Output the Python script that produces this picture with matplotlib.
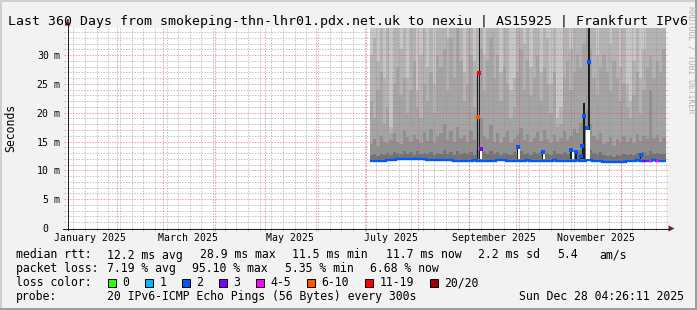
import numpy as np
import pandas as pd
import matplotlib
matplotlib.use("Agg")
import matplotlib.pyplot as plt
import matplotlib.dates as mdates
import matplotlib.transforms as mtransforms
from matplotlib.patches import Rectangle, Polygon

plt.rcParams['font.family'] = ['DejaVu Sans Mono']

# ---------------- data ----------------
TITLE = "Last 360 Days from smokeping-thn-lhr01.pdx.net.uk to nexiu | AS15925 | Frankfurt IPv6"
T_START = "2025-01-02 04:26:11"
T_END = "2025-12-28 04:26:11"
Y_MAX_MS = 34.7
Y_TICKS_MS = [0, 5, 10, 15, 20, 25, 30]
MONTH_LABELS = ["January 2025", "March 2025", "May 2025", "July 2025",
                "September 2025", "November 2025"]
MONTH_LABEL_AT = ["2025-01-16", "2025-03-16", "2025-05-16", "2025-07-16",
                  "2025-09-16", "2025-11-16"]
MONTH_STARTS = ["2025-02-01", "2025-03-01", "2025-04-01", "2025-05-01", "2025-06-01",
                "2025-07-01", "2025-08-01", "2025-09-01", "2025-10-01", "2025-11-01",
                "2025-12-01"]

BUCKET_START = "2025-07-03"
BUCKET_DAYS = 2

median_ms = [
    11.60, 11.60, 11.62, 11.60, 11.61,
    11.82, 11.85, 11.84,
    12.02, 12.02, 12.00, 12.03, 12.02, 12.01, 12.02, 12.00, 12.02,
    11.76, 11.78, 11.75, 11.76, 11.74, 11.76, 11.78, 11.75,
    11.60, 11.61, 11.60, 11.62,
    11.70, 11.70, 11.72, 11.70, 11.70, 11.71, 11.70, 11.70, 11.70, 11.72,
    11.72, 11.85, 11.70, 11.70, 11.71, 11.70, 11.70, 11.70, 11.72, 11.70,
    11.70, 11.70, 11.71, 11.70, 11.70, 11.70, 11.72, 11.70, 11.70, 11.70,
    11.70, 11.71, 11.70, 11.72, 11.70, 11.70, 11.75, 11.72, 11.70, 11.70,
    11.66,
    11.45, 11.44, 11.45, 11.46, 11.44, 11.45, 11.46,
    11.68, 11.70, 11.70, 11.72, 11.70, 11.70, 11.68, 11.70, 11.72, 11.70, 11.70, 11.68,
]
median_loss = [
    2, 2, 2, 2, 2, 2, 2, 2, 2, 2,
    2, 2, 2, 2, 2, 2, 2, 2, 2, 2,
    2, 2, 2, 2, 2, 2, 2, 2, 2, 2,
    2, 2, 2, 2, 2, 2, 2, 2, 2, 2,
    2, 2, 2, 2, 2, 2, 2, 2, 2, 2,
    2, 2, 2, 2, 2, 2, 2, 2, 2, 2,
    2, 2, 2, 2, 2, 2, 2, 2, 2, 2,
    2, 2, 2, 2, 2, 2, 2, 2, 2, 2,
    2, 2, 3, 2, 4, 2, 4, 2, 2,
]
smoke_dark_top = [
    12.6, 12.8, 12.5, 12.9, 12.6, 13.0, 12.7, 13.2, 13.0, 12.8,
    13.4, 12.9, 13.1, 12.7, 13.3, 12.9, 13.0, 12.8, 13.2, 12.6,
    13.0, 12.9, 13.5, 12.8, 13.1, 12.7, 13.3, 12.9, 13.0, 12.8,
    13.2, 12.7, 13.6, 14.0, 13.2, 12.9, 13.4, 12.8, 13.1, 12.7,
    13.0, 12.9, 12.6, 13.2, 12.8, 13.3, 12.9, 13.0, 12.7, 13.1,
    12.8, 13.2, 12.9, 13.0, 12.7, 13.3, 12.8, 12.9, 13.1, 12.8,
    13.0, 13.4, 13.2, 13.6, 13.8, 14.0, 13.5, 13.0, 12.8, 13.1,
    12.6, 12.5, 12.7, 12.4, 12.6, 12.5, 12.8, 12.7, 12.9, 12.6,
    13.0, 12.8, 13.1, 12.7, 13.4, 12.9, 13.0, 12.8, 12.9,
]
smoke_inner_top = [
    14.5, 15.5, 14.2, 16.0, 15.0, 14.8, 15.2, 16.5, 15.0, 14.6,
    17.0, 15.8, 14.9, 16.2, 15.4, 14.8, 16.6, 15.1, 17.2, 14.7,
    15.9, 16.4, 18.0, 15.2, 16.8, 15.0, 17.5, 15.6, 16.2, 14.9,
    16.9, 15.3, 18.5, 19.0, 16.0, 15.4, 17.8, 15.0, 16.5, 14.7,
    15.8, 16.9, 14.8, 15.5, 16.1, 17.4, 15.2, 16.3, 14.9, 15.7,
    16.6, 15.1, 17.0, 15.4, 14.8, 16.2, 15.0, 15.6, 16.8, 15.3,
    16.0, 17.1, 16.4, 18.2, 19.0, 20.5, 18.0, 16.0, 15.2, 16.5,
    14.6, 14.9, 15.8, 14.3, 15.5, 14.7, 16.0, 15.0, 15.6, 14.8,
    16.3, 15.1, 16.0, 15.4, 24.0, 15.7, 16.2, 15.0, 15.8,
]
smoke_mid_top = [
    22, 19, 24, 27, 18, 21, 16.5, 25, 28, 23,
    26, 20, 24, 29, 21, 19, 25, 22, 27, 20,
    30, 28, 31, 24, 33, 26, 34.7, 29, 22, 25,
    30, 21, 27, 31, 24, 29, 33, 26, 30, 22,
    28, 25, 19, 21, 27, 31, 24, 29, 23, 26,
    30, 22, 28, 25, 20, 27, 17.5, 18, 26, 29,
    24, 27, 30, 28, 32, 34.7, 31, 26, 23, 28,
    30, 27, 24, 29, 26, 22, 25, 21, 19, 23,
    27, 20, 24, 28, 30, 26, 29, 27, 31,
]
smoke_light_from = [
    30, 33, 29, 34.7, 26, 34.7, 17.5, 34.7, 34.7, 31,
    34.7, 26, 34.7, 34.7, 24, 30, 34.7, 28, 34.7, 25,
    34.7, 34.7, 34.7, 33, 34.7, 34.7, 34.7, 34.7, 27, 34.7,
    34.7, 29, 34.7, 34.7, 30, 34.7, 34.7, 34.7, 34.7, 27,
    34.7, 34.7, 24, 26, 34.7, 34.7, 32, 34.7, 28, 34.7,
    34.7, 27, 34.7, 33, 25, 34.7, 19, 21, 34.7, 34.7,
    31, 34.7, 34.7, 34.7, 34.7, 34.7, 34.7, 34.7, 30, 34.7,
    34.7, 34.7, 32, 34.7, 34.7, 28, 34.7, 25, 22, 29,
    34.7, 26, 31, 34.7, 34.7, 34.7, 34.7, 34.7, 34.7,
]

spike_dates = ["2025-09-06", "2025-09-07", "2025-09-08", "2025-09-30", "2025-10-01",
               "2025-10-15", "2025-10-16", "2025-11-01", "2025-11-02", "2025-11-04",
               "2025-11-07", "2025-11-08", "2025-11-09", "2025-11-11", "2025-11-12",
               "2025-12-13"]
spike_lo = [0, 0, 13.5, 0, 13.8, 0, 13.0, 0, 13.2, 0, 0, 0, 0, 17.0, 17.0, 0]
spike_hi = [26.9, 34.7, 13.5, 14.1, 13.8, 13.2, 13.0, 13.5, 13.2, 13.1, 12.5, 14.2,
            21.7, 17.3, 34.7, 12.6]
spike_med = [19.3, 26.9, 13.7, 14.1, None, 13.2, None, 13.5, None, 13.1, 12.5, 14.2,
             19.4, 17.3, 28.8, 12.6]
spike_loss = [5, 6, 3, 2, 2, 2, 2, 2, 2, 2, 2, 2, 2, 2, 2, 2]

LOSS_LABELS = ["0", "1", "2", "3", "4-5", "6-10", "11-19", "20/20"]
LOSS_COLORS = ["#26ff00", "#00b8ff", "#0059ff", "#7e00ff", "#ff00ff", "#ff5500",
               "#ff0000", "#a10000"]

RTT_STATS = ["12.2 ms avg", "28.9 ms max", "11.5 ms min", "11.7 ms now", "2.2 ms sd",
             "5.4", "am/s"]
LOSS_STATS = ["7.19 % avg", "95.10 % max", "5.35 % min", "6.68 % now"]
PROBE_TEXT = "20 IPv6-ICMP Echo Pings (56 Bytes) every 300s"
STAMP = "Sun Dec 28 04:26:11 2025"

# ---------------- style / layout ----------------
W, H = 697, 310
BG = "#f2f2f2"
SHADE_A = "#cfcfcf"
SHADE_B = "#9e9e9e"
GRID_C = (0.56, 0.56, 0.56, 0.55)
MGRID_C = (0.87, 0.31, 0.31, 0.55)
ARROW_C = (0.50, 0.12, 0.12)
AXIS_C = (0.12, 0.12, 0.12)

fig = plt.figure(figsize=(W / 100, H / 100), dpi=100, facecolor=BG)
AX_L, AX_R, AX_T, AX_B = 67, 666, 28, 228
ax = fig.add_axes([AX_L / W, (H - AX_B) / H, (AX_R - AX_L) / W, (AX_B - AX_T) / H])
ax.set_facecolor("white")
for s in ax.spines.values():
    s.set_visible(False)
ax.set_xticks([])
ax.set_yticks([])

x0 = mdates.date2num(pd.Timestamp(T_START))
x1 = mdates.date2num(pd.Timestamp(T_END))
ax.set_xlim(x0, x1)
ax.set_ylim(0, Y_MAX_MS)
day_px = (AX_R - AX_L) / (x1 - x0)
ms_px = (AX_B - AX_T) / Y_MAX_MS

# ---- smoke ----
n = len(median_ms)
edges = list(pd.date_range(BUCKET_START, periods=n, freq=f"{BUCKET_DAYS}D")) + [pd.Timestamp(T_END)]
xe = mdates.date2num(edges)


def ext(a):
    a = np.asarray(a, float)
    return np.append(a, a[-1])


med_e = ext(median_ms)
top_e = np.full(len(xe), Y_MAX_MS + 2)
ax.fill_between(xe, med_e, top_e, step="post", color="#b3b3b3", lw=0, zorder=1.0)
ax.fill_between(xe, ext(smoke_light_from), top_e, step="post", color="#c6c6c6", lw=0, zorder=1.1)
ax.fill_between(xe, med_e, ext(smoke_mid_top), step="post", color="#a4a4a4", lw=0, zorder=1.2)
ax.fill_between(xe, med_e, ext(smoke_inner_top), step="post", color="#8f8f8f", lw=0, zorder=1.3)
ax.fill_between(xe, med_e, ext(smoke_dark_top), step="post", color="#737373", lw=0, zorder=1.4)

# ---- grid ----
gkw = dict(lw=0.72, linestyle=(0, (1.4, 1.4)), clip_on=False, zorder=3)
lext = 3.5 / day_px
rext = 2.5 / day_px
for v in range(1, int(Y_MAX_MS) + 1):
    if v % 5:
        ax.plot([x0 - lext, x1 + rext], [v, v], color=GRID_C, **gkw)
weeks = pd.date_range("2025-01-06", T_END, freq="7D")
for d in weeks:
    xd = mdates.date2num(d)
    ax.plot([xd, xd], [-2.5 / ms_px, Y_MAX_MS], color=GRID_C, **gkw)
for v in Y_TICKS_MS[1:]:
    ax.plot([x0 - lext, x1 + rext], [v, v], color=MGRID_C, **gkw)
for d in MONTH_STARTS:
    xd = mdates.date2num(pd.Timestamp(d))
    ax.plot([xd, xd], [-2.5 / ms_px, Y_MAX_MS], color=MGRID_C, **gkw)

# ---- median line ----
ax.step(xe, med_e, where="post", color=LOSS_COLORS[2], lw=1.7, zorder=4,
        solid_capstyle="butt", solid_joinstyle="miter")
for i in range(n):
    if median_loss[i] != 2:
        ax.plot([xe[i], xe[i + 1]], [median_ms[i], median_ms[i]],
                color=LOSS_COLORS[median_loss[i]], lw=1.7, zorder=4.1,
                solid_capstyle="butt")

# ---- spikes ----
sx = mdates.date2num(pd.to_datetime(spike_dates))
for xs, lo, hi, md, lc in zip(sx, spike_lo, spike_hi, spike_med, spike_loss):
    k = int(np.searchsorted(xe, xs, side="right") - 1)
    base = median_ms[min(max(k, 0), n - 1)] + 0.3
    if lo > base:
        ax.bar(xs, lo - base, bottom=base, width=1.2, color="white", lw=0, zorder=5)
    b0 = max(lo, base)
    if hi > b0:
        ax.bar(xs, hi - b0, bottom=b0, width=0.9, color="#1c1c1c", lw=0, zorder=5.1)
    if md is not None:
        ax.scatter([xs], [md], marker="s", s=5, color=LOSS_COLORS[lc], lw=0, zorder=6)

# ---- axis texts ----
num_tr = mtransforms.offset_copy(ax.transData, fig=fig, x=48.8 - AX_L, y=0, units="dots")
unit_tr = mtransforms.offset_copy(ax.transData, fig=fig, x=53.6 - AX_L, y=0, units="dots")
for v in Y_TICKS_MS:
    ax.text(x0, v, f"{v}", transform=num_tr, ha="right", va="center_baseline",
            fontsize=7.1, clip_on=False)
    if v:
        ax.text(x0, v, "m", transform=unit_tr, ha="left", va="center_baseline",
                fontsize=7.1, clip_on=False)

mon_tr = mtransforms.offset_copy(ax.transData, fig=fig, x=0, y=-(240.8 - AX_B), units="dots")
for lab, d in zip(MONTH_LABELS, MONTH_LABEL_AT):
    ax.text(mdates.date2num(pd.Timestamp(d)), 0, lab, transform=mon_tr, ha="center",
            va="baseline", fontsize=7.1, clip_on=False)

# ---- overlay in pixel coordinates ----
ov = fig.add_axes([0, 0, 1, 1])
ov.set_xlim(0, W)
ov.set_ylim(H, 0)
ov.patch.set_visible(False)
ov.set_axis_off()

# borders
ov.add_patch(Rectangle((0, 0), W, 2, color=SHADE_A, lw=0))
ov.add_patch(Rectangle((0, 0), 2, H, color=SHADE_A, lw=0))
ov.add_patch(Rectangle((W - 2, 0), 2, H, color=SHADE_B, lw=0))
ov.add_patch(Rectangle((0, H - 2), W, 2, color=SHADE_B, lw=0))

# axes lines + arrows
ov.plot([AX_L + 0.5, AX_L + 0.5], [AX_B + 1.5, 24], color=AXIS_C, lw=0.72)
ov.add_patch(Polygon([(AX_L - 2.5, 25.5), (AX_L + 3.5, 25.5), (AX_L + 0.5, 19.5)],
                     closed=True, color=ARROW_C, lw=0))
ov.plot([63, 670], [AX_B + 0.5, AX_B + 0.5], color=AXIS_C, lw=0.72)
ov.add_patch(Polygon([(668.5, AX_B - 2.5), (668.5, AX_B + 3.5), (674.5, AX_B + 0.5)],
                     closed=True, color=ARROW_C, lw=0))

# title, unit, watermark
ov.text(8, 24.6, TITLE, ha="left", va="baseline", fontsize=9.5)
ov.text(10.5, (AX_T + AX_B) / 2, "Seconds", rotation=90, ha="center", va="center",
        fontsize=8.3)
ov.text(691, 60, "RRDTOOL / TOBI OETIKER", rotation=270, ha="center", va="center",
        fontsize=5.9, color="#b0b0b0")

# legend
LFS = 8.3
rows_y = [258.5, 272.3, 286.1, 299.9]
ov.text(15.5, rows_y[0], "median rtt:", ha="left", va="baseline", fontsize=LFS)
for txt, xp in zip(RTT_STATS, [107, 199.5, 292.5, 385.5, 478.5, 557.3, 599.5]):
    ov.text(xp, rows_y[0], txt, ha="left", va="baseline", fontsize=LFS)
ov.text(15.5, rows_y[1], "packet loss:", ha="left", va="baseline", fontsize=LFS)
for txt, xp in zip(LOSS_STATS, [107, 192.5, 285.3, 370.5]):
    ov.text(xp, rows_y[1], txt, ha="left", va="baseline", fontsize=LFS)
ov.text(15.5, rows_y[2], "loss color:", ha="left", va="baseline", fontsize=LFS)
box_x = [108.4, 145.3, 182.2, 219.1, 256.0, 306.7, 364.9, 430.2]
lab_x = [122.6, 159.5, 196.4, 233.7, 270.6, 320.8, 379.5, 443.9]
for lab, col, bx, lx in zip(LOSS_LABELS, LOSS_COLORS, box_x, lab_x):
    ov.add_patch(Rectangle((bx, rows_y[2] - 7.5), 8, 8, facecolor=col,
                           edgecolor="black", lw=0.72))
    ov.text(lx, rows_y[2], lab, ha="left", va="baseline", fontsize=LFS)
ov.text(15.5, rows_y[3], "probe:", ha="left", va="baseline", fontsize=LFS)
ov.text(107, rows_y[3], PROBE_TEXT, ha="left", va="baseline", fontsize=LFS)
ov.text(684, rows_y[3], STAMP, ha="right", va="baseline", fontsize=LFS)

fig.savefig("out.png", dpi=100, facecolor=BG)
